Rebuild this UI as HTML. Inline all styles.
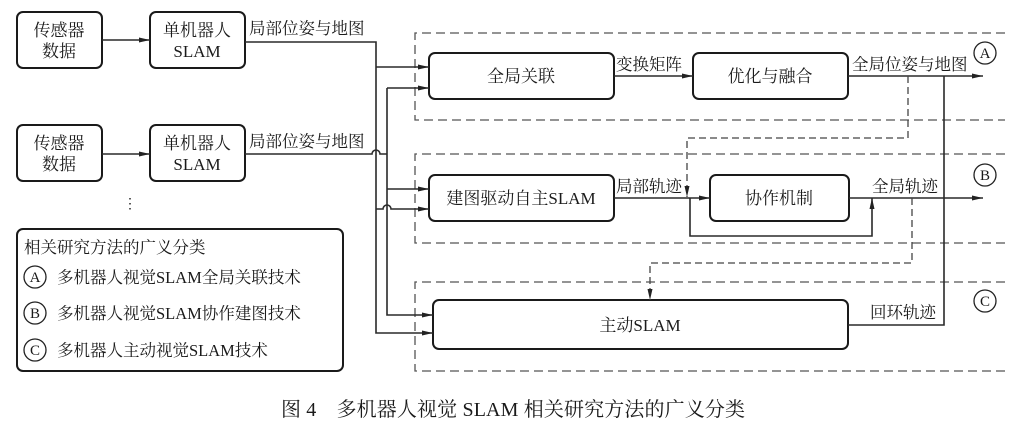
<!DOCTYPE html>
<html><head><meta charset="utf-8"><style>
html,body{margin:0;padding:0;background:#fff;}
svg{display:block;}
text{font-family:"Liberation Serif","Noto Serif CJK SC",serif;fill:#1a1a1a;}
</style></head><body>
<svg width="1022" height="425" viewBox="0 0 1022 425" xmlns="http://www.w3.org/2000/svg">
<defs>
<marker id="ar" markerWidth="12" markerHeight="8" refX="11" refY="4" orient="auto" markerUnits="userSpaceOnUse">
<path d="M0,1.5 L11,4 L0,6.5 Z" fill="#222"/></marker>
</defs>
<g fill="none" stroke="#2a2a2a" stroke-width="1.6">
<g stroke-dasharray="9,5" stroke-width="1.3" stroke="#555">
<path d="M1005,33 H415 V120 H1005"/>
<path d="M1005,154 H415 V243 H1005"/>
<path d="M1005,282 H415 V371 H1005"/>
</g>
<g stroke-width="2" stroke="#1a1a1a">
<rect x="17" y="12" width="85" height="56" rx="6"/>
<rect x="17" y="125" width="85" height="56" rx="6"/>
<rect x="150" y="12" width="95" height="56" rx="6"/>
<rect x="150" y="125" width="95" height="56" rx="6"/>
<rect x="429" y="53" width="185" height="46" rx="6"/>
<rect x="693" y="53" width="155" height="46" rx="6"/>
<rect x="429" y="175" width="185" height="46" rx="6"/>
<rect x="710" y="175" width="139" height="46" rx="6"/>
<rect x="433" y="300" width="415" height="49" rx="6"/>
<rect x="17" y="229" width="326" height="142" rx="6"/>
</g>
<path d="M102,40 H150" marker-end="url(#ar)"/>
<path d="M102,154 H150" marker-end="url(#ar)"/>
<path d="M245,42 H376 V333 H433" marker-end="url(#ar)"/>
<path d="M376,67 H429" marker-end="url(#ar)"/>
<path d="M245,154 H372 A4,4 0 0 1 380,154 H387"/>
<path d="M387,88 V315 H433" marker-end="url(#ar)"/>
<path d="M387,88 H429" marker-end="url(#ar)"/>
<path d="M387,189 H429" marker-end="url(#ar)"/>
<path d="M376,209 H383 A4,4 0 0 1 391,209 H429" marker-end="url(#ar)"/>
<path d="M614,76 H693" marker-end="url(#ar)"/>
<path d="M848,76 H983" marker-end="url(#ar)"/>
<path d="M944,76 V325 H848"/>
<path d="M614,198 H710" marker-end="url(#ar)"/>
<path d="M690,198 V236 H872 V198" marker-end="url(#ar)"/>
<path d="M849,198 H983" marker-end="url(#ar)"/>
<g stroke-dasharray="7,4" stroke-width="1.3" stroke="#444">
<path d="M908,76 V138 H687 V197" marker-end="url(#ar)"/>
<path d="M912,198 V263 H650 V300" marker-end="url(#ar)"/>
</g>
<g stroke-width="1.3" stroke="#222">
<circle cx="985" cy="53" r="11"/>
<circle cx="985" cy="175" r="11"/>
<circle cx="985" cy="301" r="11"/>
<circle cx="35" cy="277" r="11"/>
<circle cx="35" cy="313" r="11"/>
<circle cx="35" cy="350" r="11"/>
</g>
</g>
<g font-size="17" text-anchor="middle">
<text x="59" y="36">传感器</text><text x="59" y="57">数据</text>
<text x="59" y="149">传感器</text><text x="59" y="170">数据</text>
<text x="197" y="36">单机器人</text><text x="197" y="57">SLAM</text>
<text x="197" y="149">单机器人</text><text x="197" y="170">SLAM</text>
<text x="521" y="82">全局关联</text>
<text x="770" y="82">优化与融合</text>
<text x="521" y="204">建图驱动自主SLAM</text>
<text x="779" y="204">协作机制</text>
<text x="640" y="331">主动SLAM</text>
<text x="985" y="58" font-size="15">A</text>
<text x="985" y="180" font-size="15">B</text>
<text x="985" y="306" font-size="15">C</text>
<text x="35" y="282" font-size="15">A</text>
<text x="35" y="318" font-size="15">B</text>
<text x="35" y="355" font-size="15">C</text>
<text x="130" y="208" font-size="14">⋮</text>
</g>
<g font-size="16.5">
<text x="249" y="34">局部位姿与地图</text>
<text x="249" y="147">局部位姿与地图</text>
<text x="616" y="70">变换矩阵</text>
<text x="852" y="70">全局位姿与地图</text>
<text x="616" y="192">局部轨迹</text>
<text x="872" y="192">全局轨迹</text>
<text x="870" y="318">回环轨迹</text>
<text x="24" y="253">相关研究方法的广义分类</text>
<text x="57" y="283">多机器人视觉SLAM全局关联技术</text>
<text x="57" y="319">多机器人视觉SLAM协作建图技术</text>
<text x="57" y="356">多机器人主动视觉SLAM技术</text>
<text x="281" y="416" font-size="20" textLength="464" lengthAdjust="spacing">图 4　多机器人视觉 SLAM 相关研究方法的广义分类</text>
</g>
</svg>
</body></html>
